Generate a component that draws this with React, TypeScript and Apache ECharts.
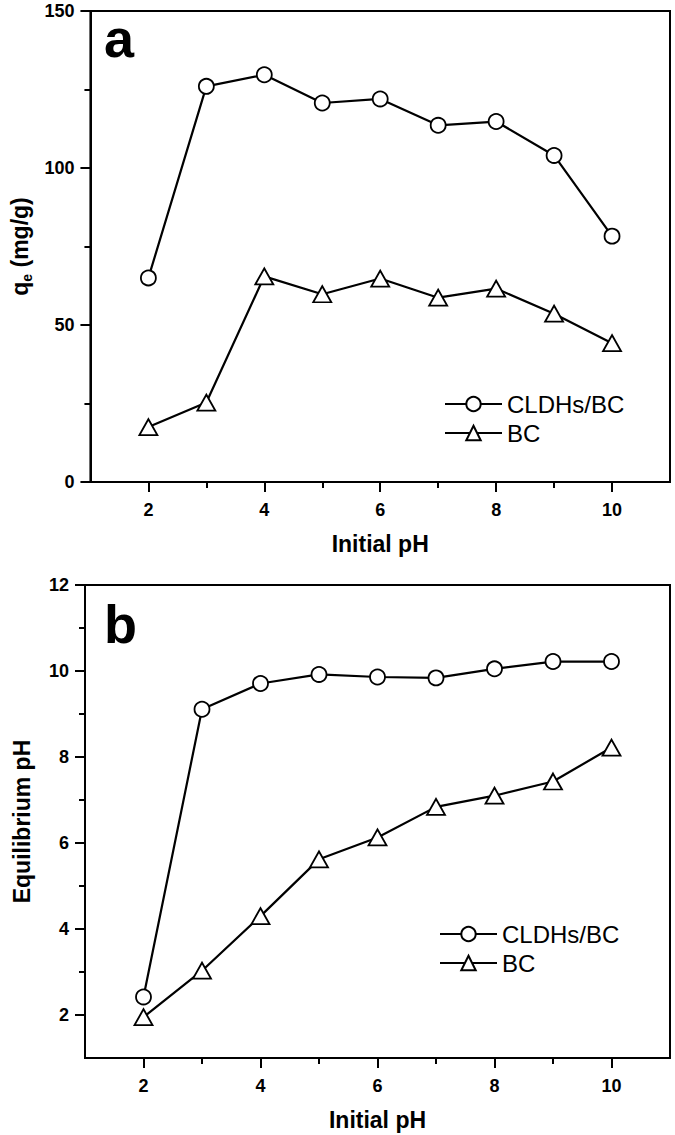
import React, { useEffect, useRef } from "react";
import * as echarts from "echarts";

const phInitial = [2, 3, 4, 5, 6, 7, 8, 9, 10];
const qeCLDHs = [65, 126, 129.7, 120.7, 122, 113.6, 114.8, 104, 78.3];
const qeBC = [17.5, 25.3, 65.5, 59.8, 64.8, 58.7, 61.6, 53.6, 44.2];
const eqCLDHs = [2.42, 9.11, 9.71, 9.92, 9.86, 9.84, 10.05, 10.22, 10.22];
const eqBC = [1.95, 3.03, 4.3, 5.62, 6.13, 6.84, 7.1, 7.43, 8.22];

const xMajorTicks = [2, 4, 6, 8, 10];
const xMinorTicks = [3, 5, 7, 9];
const qeMajorTicks = [0, 50, 100, 150];
const qeMinorTicks = [25, 75, 125];
const eqMajorTicks = [2, 4, 6, 8, 10, 12];
const eqMinorTicks = [3, 5, 7, 9, 11];

const seriesNames = ["CLDHs/BC", "BC"];

const FONT = "Liberation Sans, Arial, sans-serif";

export default function App() {
  const ref = useRef<HTMLDivElement>(null);

  useEffect(() => {
    if (!ref.current) return;
    const chart = echarts.init(ref.current, null, { renderer: "svg" });

    const labelStyle = {
      fontFamily: FONT,
      fontWeight: "bold" as const,
      fontSize: 18,
      color: "#000",
    };
    const axisLine = { show: true, lineStyle: { color: "#000", width: 2 } };

    const makeX = (gridIndex: number, major: boolean) => ({
      type: "value",
      gridIndex,
      min: 1,
      max: 11,
      interval: 1,
      position: "bottom",
      axisLine,
      splitLine: { show: false },
      axisTick: major
        ? { show: true, customValues: xMajorTicks, length: 10, lineStyle: { color: "#000", width: 2 } }
        : { show: true, customValues: xMinorTicks, length: 6, lineStyle: { color: "#000", width: 2 } },
      axisLabel: major
        ? { show: true, customValues: xMajorTicks, margin: 19, ...labelStyle }
        : { show: false },
      name: major ? "Initial pH" : "",
      nameLocation: "middle",
      nameGap: 50,
      nameTextStyle: { fontFamily: FONT, fontWeight: "bold", fontSize: 23, color: "#000" },
    });

    const makeY = (
      gridIndex: number,
      min: number,
      max: number,
      interval: number,
      majorTicks: number[],
      minorTicks: number[],
      major: boolean,
      name: string,
      rich?: any
    ) => ({
      type: "value",
      gridIndex,
      min,
      max,
      interval,
      position: "left",
      axisLine,
      splitLine: { show: false },
      axisTick: major
        ? { show: true, customValues: majorTicks, length: 10, lineStyle: { color: "#000", width: 2 } }
        : { show: true, customValues: minorTicks, length: 6, lineStyle: { color: "#000", width: 2 } },
      axisLabel: major
        ? { show: true, customValues: majorTicks, margin: 16, ...labelStyle }
        : { show: false },
      name: major ? name : "",
      nameLocation: "middle",
      nameGap: 52,
      nameTextStyle: {
        fontFamily: FONT,
        fontWeight: "bold",
        fontSize: 23,
        color: "#000",
        ...(rich ? { rich } : {}),
      },
    });

    const circleSeries = (name: string, xi: number, yi: number, vals: number[]) => ({
      name,
      type: "line",
      xAxisIndex: xi,
      yAxisIndex: yi,
      data: phInitial.map((x, i) => [x, vals[i]]),
      symbol: "circle",
      symbolSize: 15,
      lineStyle: { color: "#000", width: 2.2 },
      itemStyle: { color: "#fff", borderColor: "#000", borderWidth: 1.8 },
      z: 3,
    });
    const triSeries = (name: string, xi: number, yi: number, vals: number[]) => ({
      name,
      type: "line",
      xAxisIndex: xi,
      yAxisIndex: yi,
      data: phInitial.map((x, i) => [x, vals[i]]),
      symbol: "triangle",
      symbolSize: [18, 16],
      lineStyle: { color: "#000", width: 2.2 },
      itemStyle: { color: "#fff", borderColor: "#000", borderWidth: 1.8 },
      z: 3,
    });

    const legendBase = {
      orient: "vertical",
      padding: 0,
      itemWidth: 57,
      itemHeight: 18,
      itemGap: 5,
      textStyle: { fontFamily: FONT, fontSize: 24, color: "#000" },
      data: seriesNames,
      selectedMode: false,
    };

    const qeRich = {
      q: { fontFamily: FONT, fontWeight: "bold", fontSize: 23, color: "#000" },
      sub: { fontFamily: FONT, fontWeight: "bold", fontSize: 14, color: "#000", padding: [14, 0, 0, 0] },
      n: { fontFamily: FONT, fontWeight: "bold", fontSize: 23, color: "#000" },
    };

    chart.setOption({
      animation: false,
      backgroundColor: "#fff",
      grid: [
        { left: 85, top: 11, width: 585, height: 471, show: true, borderColor: "#000", borderWidth: 2 },
        { left: 85, top: 585, width: 585, height: 473, show: true, borderColor: "#000", borderWidth: 2 },
      ],
      xAxis: [makeX(0, false), makeX(0, true), makeX(1, false), makeX(1, true)],
      yAxis: [
        makeY(0, 0, 150, 25, qeMajorTicks, qeMinorTicks, false, ""),
        makeY(0, 0, 150, 25, qeMajorTicks, qeMinorTicks, true, "{q|q}{sub|e}{n| (mg/g)}", qeRich),
        makeY(1, 1, 12, 1, eqMajorTicks, eqMinorTicks, false, ""),
        makeY(1, 1, 12, 1, eqMajorTicks, eqMinorTicks, true, "Equilibrium pH"),
      ],
      legend: [
        { ...legendBase, left: 444, top: 392 },
        { ...legendBase, left: 439, top: 922 },
      ],
      series: [
        circleSeries(seriesNames[0], 1, 1, qeCLDHs),
        triSeries(seriesNames[1], 1, 1, qeBC),
        circleSeries(seriesNames[0], 3, 3, eqCLDHs),
        triSeries(seriesNames[1], 3, 3, eqBC),
      ],
      graphic: [
        {
          type: "text",
          x: 104,
          y: 38,
          style: { text: "a", font: "bold 54px Liberation Sans, Arial, sans-serif", fill: "#000", verticalAlign: "middle" },
        },
        {
          type: "text",
          x: 104,
          y: 624,
          style: { text: "b", font: "bold 54px Liberation Sans, Arial, sans-serif", fill: "#000", verticalAlign: "middle" },
        },
      ],
    });

    return () => chart.dispose();
  }, []);

  return (
    <div
      ref={ref}
      style={{ position: "fixed", left: 0, top: 0, width: 675, height: 1135, background: "#fff" }}
    />
  );
}
